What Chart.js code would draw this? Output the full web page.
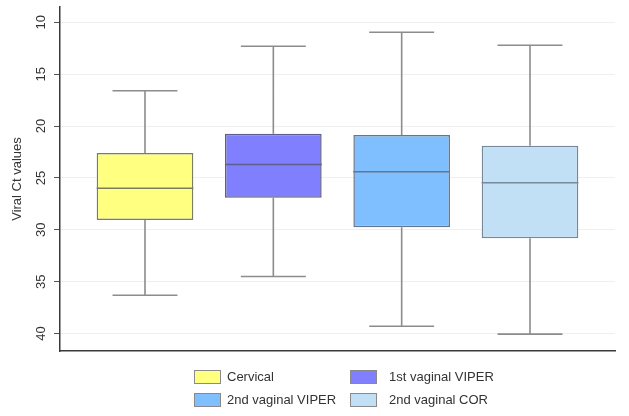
<!DOCTYPE html>
<html>
<head>
<meta charset="utf-8">
<script src="https://cdn.jsdelivr.net/npm/chart.js@4/dist/chart.umd.min.js"></script>
<style>
  html, body { margin: 0; padding: 0; background: #fff; }
  #wrap { position: relative; width: 629px; height: 416px; }
  #legend { position: absolute; left: 0; top: 0; width: 629px; height: 416px; pointer-events: none;
            font-family: "Liberation Sans", Arial, sans-serif; font-size: 13px; color: #333; }
  .item { position: absolute; display: flex; align-items: center; white-space: nowrap; }
  .sw { width: 27px; height: 14px; border: 1px solid #8a8a8a; box-sizing: border-box; }
</style>
</head>
<body>
<div id="wrap">
  <canvas id="c" width="629" height="416"></canvas>
  <div id="legend"></div>
</div>
<script>
// ---- data ----
const categories = ['Cervical', '1st vaginal VIPER', '2nd vaginal VIPER', '2nd vaginal COR'];
const whiskerLow  = [16.6, 12.3, 10.95, 12.2];
const q1          = [22.6, 20.75, 20.85, 21.9];
const median      = [26.0, 23.7, 24.4, 25.45];
const q3          = [29.05, 26.9, 29.75, 30.8];
const whiskerHigh = [36.3, 34.5, 39.3, 40.05];
const yTicks      = [10, 15, 20, 25, 30, 35, 40];

// ---- styles ----
const fills   = ['#ffff80', '#8080ff', '#80bfff', '#c2e0f5'];
const borders = ['#7c7c62', '#5e5e8c', '#62788e', '#76889a'];
const boxHalf = 0.377;
const capHalf = 0.253;

const boxData = categories.map((c, i) => ({ x: i, y: [q1[i], q3[i]] }));
const medianData = [], whiskerData = [], capData = [], capData2 = [];
categories.forEach((c, i) => {
  medianData.push({ x: i - boxHalf, y: median[i] }, { x: i + boxHalf, y: median[i] }, { x: i + boxHalf, y: null });
  whiskerData.push({ x: i, y: q1[i] }, { x: i, y: whiskerLow[i] }, { x: i, y: null });
  whiskerData.push({ x: i, y: q3[i] }, { x: i, y: whiskerHigh[i] }, { x: i, y: null });
  capData.push({ x: i - capHalf, y: whiskerLow[i] }, { x: i + capHalf, y: whiskerLow[i] }, { x: i + capHalf, y: null });
  capData2.push({ x: i - capHalf, y: whiskerHigh[i] }, { x: i + capHalf, y: whiskerHigh[i] }, { x: i + capHalf, y: null });
});

const lineBase = { type: 'line', pointRadius: 0, spanGaps: false, fill: false, order: 0 };

new Chart(document.getElementById('c'), {
  type: 'bar',
  data: {
    datasets: [
      Object.assign({}, lineBase, { data: medianData, borderColor: '#666a70', borderWidth: 1.5,
        segment: { borderColor: ctx => borders[Math.round(ctx.p0.parsed.x)] } }),
      Object.assign({}, lineBase, { data: whiskerData, borderColor: '#8c8c8c', borderWidth: 1.6 }),
      Object.assign({}, lineBase, { data: capData, borderColor: '#8c8c8c', borderWidth: 1.6 }),
      Object.assign({}, lineBase, { data: capData2, borderColor: '#8c8c8c', borderWidth: 1.6 }),
      { type: 'bar', data: boxData, backgroundColor: fills, borderColor: borders, borderWidth: 1.5,
        borderSkipped: false, barPercentage: 0.753, categoryPercentage: 1, order: 10 }
    ]
  },
  options: {
    responsive: false,
    animation: false,
    devicePixelRatio: 1,
    layout: { padding: { left: 0, right: 14, top: 7, bottom: 65 } },
    plugins: { legend: { display: false }, tooltip: { enabled: false } },
    scales: {
      x: {
        type: 'linear',
        offset: false,
        min: -0.6623, max: 3.6623,
        afterBuildTicks: s => { s.ticks = categories.map((c, i) => ({ value: i })); },
        afterFit: s => { s.height = 0; s.paddingLeft = 0; s.paddingRight = 0; },
        grid: { display: false },
        ticks: { display: false },
        border: { display: true, color: '#3a3a3a', width: 1.5 }
      },
      y: {
        type: 'linear',
        position: 'left',
        reverse: true,
        min: 8.52, max: 41.68,
        afterBuildTicks: s => { s.ticks = yTicks.map(v => ({ value: v })); },
        afterFit: s => { s.width = 60; s.paddingTop = 0; s.paddingBottom = 0; },
        grid: { color: '#eef0f0', lineWidth: 1, tickColor: '#555', tickLength: 6 },
        border: { display: true, color: '#3a3a3a', width: 1.5 },
        ticks: {
          minRotation: 90, maxRotation: 90, crossAlign: 'center', padding: 5,
          color: '#333', font: { family: 'Liberation Sans', size: 13 }
        },
        title: {
          display: true, text: 'Viral Ct values', color: '#333',
          font: { family: 'Liberation Sans', size: 13 }, padding: { top: 10, bottom: 0 }
        }
      }
    }
  }
});

// ---- legend (HTML text) ----
const legendPos = [
  { left: 194, top: 369 }, { left: 350, top: 369 },
  { left: 194, top: 392 }, { left: 350, top: 392 }
];
const textGap = [6, 12, 6, 12];
const leg = document.getElementById('legend');
categories.forEach((c, i) => {
  const it = document.createElement('div');
  it.className = 'item';
  it.style.left = legendPos[i].left + 'px';
  it.style.top = legendPos[i].top + 'px';
  const sw = document.createElement('div');
  sw.className = 'sw';
  sw.style.background = fills[i];
  const tx = document.createElement('span');
  tx.textContent = c;
  tx.style.marginLeft = textGap[i] + 'px';
  it.appendChild(sw); it.appendChild(tx);
  leg.appendChild(it);
});
</script>
</body>
</html>
